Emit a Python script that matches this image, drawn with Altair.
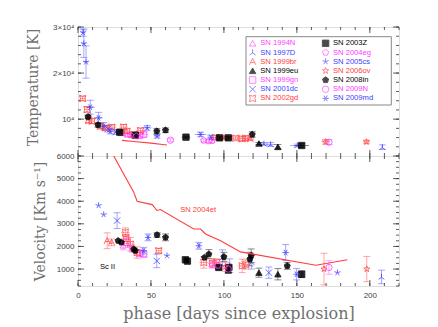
import altair as alt
import pandas as pd

# ---------------- data ----------------
names = ["SN 1994N", "SN 1997D", "SN 1999br", "SN 1999eu", "SN 1999gn", "SN 2001dc", "SN 2002gd",
         "SN 2003Z", "SN 2004eg", "SN 2005cs", "SN 2006ov", "SN 2008in", "SN 2009N", "SN 2009md"]
MAG, BLU, RED, BLK = "#ff3cff", "#3c3cff", "#ff3c3c", "#000000"
colors = [MAG, BLU, RED, BLK, MAG, BLU, RED, BLK, MAG, BLU, RED, BLK, MAG, BLU]
filled = [False, False, False, True, False, False, False, True, False, False, False, True, False, False]

PENT = "M0,-1L0.951,-0.309L0.588,0.809L-0.588,0.809L-0.951,-0.309Z"
STAR = ("M0,-1L0.235,-0.324L0.951,-0.309L0.380,0.124L0.588,0.809L0,0.4L-0.588,0.809"
        "L-0.380,0.124L-0.951,-0.309L-0.235,-0.324Z")
SKEL = "M0,0L0,-1M0,0L0.951,-0.309M0,0L0.588,0.809M0,0L-0.588,0.809M0,0L-0.951,-0.309"
TRI3 = "M0,0.1L0,-1M0,0.1L-0.9,0.75M0,0.1L0.9,0.75"
ALET = "M0,-1L-1,1M0,-1L1,1M-0.6,0.25L0.6,0.25"
XCRS = "M-1,-1L1,1M-1,1L1,-1"
CSQR = "M-1,-1Q0,-0.4,1,-1Q0.4,0,1,1Q0,0.4,-1,1Q-0.4,0,-1,-1Z"
ASTR = "M-1,0L1,0M-0.5,-0.87L0.5,0.87M0.5,-0.87L-0.5,0.87"
shapes = ["triangle-up", TRI3, ALET, "triangle-up", "square", XCRS, CSQR,
          "square", PENT, SKEL, STAR, PENT, "circle", ASTR]

# Temperature panel: phase, T, T error, phase error
t94N_x = [30, 34]; t94N_T = [7000, 6700]; t94N_dT = [500, 400]; t94N_dx = [0, 0]
t97D_x = [127.4, 132, 150.3, 208.6]; t97D_T = [4630, 4500, 4280, 3910]; t97D_dT = [300, 400, 300, 500]; t97D_dx = [3, 3, 5, 0]
t99br_x = [100, 118]; t99br_T = [5900, 5650]; t99br_dT = [300, 300]; t99br_dx = [3, 3]
t99eu_x = [124, 137]; t99eu_T = [4720, 3980]; t99eu_dT = [200, 500]; t99eu_dx = [0, 0]
t99gn_x = [45, 42]; t99gn_T = [6670, 6450]; t99gn_dT = [400, 300]; t99gn_dx = [3, 0]
t01dc_x = [20.5, 26]; t01dc_T = [7900, 7200]; t01dc_dT = [700, 500]; t01dc_dx = [3, 2]
t02gd_x = [3.2, 6.2, 7.3, 9.6, 15.3, 18.7, 23.3, 31.3, 33.6, 38.2, 42.8, 94.2, 108, 112.6, 114.8]
t02gd_T = [14500, 12100, 9720, 9560, 8480, 8110, 8260, 8260, 7390, 6670, 7540, 6020, 5870, 5740, 5870]
t02gd_dT = [400, 600, 500, 500, 600, 500, 500, 600, 500, 400, 500, 400, 300, 400, 400]
t02gd_dx = [2, 2, 2, 2, 3, 3, 3, 3, 3, 2, 3, 3, 3, 3, 3]
t03Z_x = [28.6, 39.3, 74, 97, 103, 153.3]; t03Z_T = [7170, 6520, 6090, 5940, 5940, 4280]
t03Z_dT = [300, 300, 200, 300, 300, 400]; t03Z_dx = [4, 3, 3, 3, 3, 5]
t04eg_x = [36, 40, 86.2, 89.5, 92]; t04eg_T = [6500, 6300, 5370, 5220, 5300]; t04eg_dT = [300, 300, 300, 300, 300]; t04eg_dx = [0, 0, 0, 0, 0]
t05cs_x = [3.5, 4.0, 5.5, 47.4, 54.2]; t05cs_T = [28800, 26400, 22400, 8100, 6300]
t05cs_dT = [800, 3000, 3500, 500, 400]; t05cs_dx = [1.5, 1.5, 1.5, 3, 2]
t06ov_x = [169.7, 197.7]; t06ov_T = [5070, 5070]; t06ov_dT = [500, 400]; t06ov_dx = [3, 2]
t08in_x = [6.9, 13.7, 54, 60, 119.4]; t08in_T = [10500, 8760, 7390, 7600, 6670]; t08in_dT = [400, 500, 600, 500, 600]; t08in_dx = [0, 0, 0, 0, 0]
t09N_x = [63.3, 172]; t09N_T = [5430, 5000]; t09N_dT = [300, 500]; t09N_dx = [0, 0]
t09md_x = [8.4, 14.1, 17.6, 22.2, 84, 91]; t09md_T = [12600, 10280, 8480, 7390, 6670, 6090]
t09md_dT = [1500, 1200, 800, 600, 500, 400]; t09md_dx = [3, 3, 3, 2, 4, 0]

# SN 2004et temperature curve
et_T_x = [30.2, 40, 50, 58, 61]
et_T_y = [5400, 5100, 4800, 4500, 4400]

# Velocity panel: phase, v, v error, phase error
v94N_x = [31]; v94N_v = [2050]; v94N_dv = [200]; v94N_dx = [0]
v97D_x = [99, 104, 119, 208]; v97D_v = [1500, 1150, 1300, 650]; v97D_dv = [350, 300, 300, 300]; v97D_dx = [0, 0, 0, 0]
v99br_x = [20, 23]; v99br_v = [2250, 2180]; v99br_dv = [350, 150]; v99br_dx = [0, 0]
v99eu_x = [103, 124, 137]; v99eu_v = [950, 840, 770]; v99eu_dv = [150, 200, 250]; v99eu_dx = [0, 0, 0]
v99gn_x = [33.6, 42, 45]; v99gn_v = [2180, 1700, 1660]; v99gn_dv = [150, 100, 100]; v99gn_dx = [0, 0, 0]
v01dc_x = [26.8, 54, 130.8]; v01dc_v = [3140, 1360, 840]; v01dc_dv = [350, 300, 250]; v01dc_dx = [0, 0, 0]
v02gd_x = [32.5, 33, 36, 40.5, 55.3, 86.2, 92, 95, 112.5, 115]
v02gd_v = [2620, 2330, 2100, 1730, 1810, 1290, 1250, 1300, 1140, 1200]
v02gd_dv = [200, 200, 300, 250, 100, 250, 200, 150, 300, 200]
v02gd_dx = [3, 3, 3, 3, 2, 3, 3, 3, 3, 3]
v03Z_x = [73.6, 75, 96.5, 103.4, 153.3]; v03Z_v = [1410, 1350, 1070, 1070, 770]; v03Z_dv = [0, 0, 100, 100, 150]; v03Z_dx = [0, 0, 0, 0, 0]
v04eg_x = [37, 92, 96]; v04eg_v = [1900, 1200, 1150]; v04eg_dv = [150, 150, 150]; v04eg_dx = [0, 0, 0]
v05cs_x = [14.1, 17.6, 61, 177.8]; v05cs_v = [3810, 3410, 1590, 840]; v05cs_dv = [0, 0, 0, 0]; v05cs_dx = [0, 0, 0, 0]
v06ov_x = [101, 168.6, 197.9]; v06ov_v = [1100, 1000, 1000]; v06ov_dv = [200, 700, 560]; v06ov_dx = [0, 0, 0]
v08in_x = [27.5, 29.7, 38.2, 39.3, 54.2, 60, 86.7, 89.7, 100, 117.8, 118.7, 143.4]
v08in_v = [2250, 2180, 1880, 1810, 2510, 2400, 1510, 1660, 1540, 1440, 1590, 1140]
v08in_dv = [0, 0, 0, 0, 100, 150, 0, 200, 200, 300, 300, 150]
v08in_dx = [0, 0, 0, 0, 0, 0, 0, 0, 0, 0, 0, 0]
v09N_x = [103, 172]; v09N_v = [1000, 1070]; v09N_dv = [100, 300]; v09N_dx = [0, 0]
v09md_x = [45, 48, 82.8, 142.3, 149.8]; v09md_v = [1810, 2400, 2030, 1730, 770]; v09md_dv = [150, 150, 150, 350, 250]; v09md_dx = [0, 0, 0, 0, 0]

# SN 2004et velocity curve
et_v_x = [24.5, 38.2, 40.5, 50.8, 54.2, 56.5, 79.3, 84, 87.4, 97.7, 111.4, 163, 184.6]
et_v_y = [6000, 4400, 4000, 3850, 3590, 3630, 2770, 2770, 2550, 2250, 1760, 1170, 1410]

# axis ticks
x_major = [0, 50, 100, 150, 200]
x_minor = list(range(0, 221, 10))
T_major = [10000, 20000, 30000]
T_minor = list(range(2000, 30001, 2000))
v_major = [1000, 2000, 3000, 4000, 5000, 6000]
v_minor = list(range(250, 6001, 250))

# ---------------- tables ----------------
temp_series = [
    ("SN 1994N", t94N_x, t94N_T, t94N_dT, t94N_dx), ("SN 1997D", t97D_x, t97D_T, t97D_dT, t97D_dx),
    ("SN 1999br", t99br_x, t99br_T, t99br_dT, t99br_dx), ("SN 1999eu", t99eu_x, t99eu_T, t99eu_dT, t99eu_dx),
    ("SN 1999gn", t99gn_x, t99gn_T, t99gn_dT, t99gn_dx), ("SN 2001dc", t01dc_x, t01dc_T, t01dc_dT, t01dc_dx),
    ("SN 2002gd", t02gd_x, t02gd_T, t02gd_dT, t02gd_dx), ("SN 2003Z", t03Z_x, t03Z_T, t03Z_dT, t03Z_dx),
    ("SN 2004eg", t04eg_x, t04eg_T, t04eg_dT, t04eg_dx), ("SN 2005cs", t05cs_x, t05cs_T, t05cs_dT, t05cs_dx),
    ("SN 2006ov", t06ov_x, t06ov_T, t06ov_dT, t06ov_dx), ("SN 2008in", t08in_x, t08in_T, t08in_dT, t08in_dx),
    ("SN 2009N", t09N_x, t09N_T, t09N_dT, t09N_dx), ("SN 2009md", t09md_x, t09md_T, t09md_dT, t09md_dx),
]
vel_series = [
    ("SN 1994N", v94N_x, v94N_v, v94N_dv, v94N_dx), ("SN 1997D", v97D_x, v97D_v, v97D_dv, v97D_dx),
    ("SN 1999br", v99br_x, v99br_v, v99br_dv, v99br_dx), ("SN 1999eu", v99eu_x, v99eu_v, v99eu_dv, v99eu_dx),
    ("SN 1999gn", v99gn_x, v99gn_v, v99gn_dv, v99gn_dx), ("SN 2001dc", v01dc_x, v01dc_v, v01dc_dv, v01dc_dx),
    ("SN 2002gd", v02gd_x, v02gd_v, v02gd_dv, v02gd_dx), ("SN 2003Z", v03Z_x, v03Z_v, v03Z_dv, v03Z_dx),
    ("SN 2004eg", v04eg_x, v04eg_v, v04eg_dv, v04eg_dx), ("SN 2005cs", v05cs_x, v05cs_v, v05cs_dv, v05cs_dx),
    ("SN 2006ov", v06ov_x, v06ov_v, v06ov_dv, v06ov_dx), ("SN 2008in", v08in_x, v08in_v, v08in_dv, v08in_dx),
    ("SN 2009N", v09N_x, v09N_v, v09N_dv, v09N_dx), ("SN 2009md", v09md_x, v09md_v, v09md_dv, v09md_dx),
]


def table(series):
    recs = []
    for sn, xs_, ys_, dys, dxs in series:
        for x, y, dy, dx in zip(xs_, ys_, dys, dxs):
            recs.append(dict(sn=sn, x=x, y=y, lo=y - dy, hi=y + dy, dy=dy, xlo=x - dx, xhi=x + dx, dx=dx))
    return pd.DataFrame(recs)


tdf = table(temp_series)
vdf = table(vel_series)

W, H1, H2 = 321, 129, 130
XDOM, TDOM, VDOM = [0, 220], [2000, 30000], [250, 6000]
LABEL_FONT = "Liberation Sans"
TITLE_FONT = "DejaVu Serif"
FRAME = "#333333"

xs = alt.Scale(domain=XDOM, nice=False, zero=False)
color_s = alt.Scale(domain=names, range=colors)
fill_s = alt.Scale(domain=names, range=[c if f else "transparent" for c, f in zip(colors, filled)])
shape_s = alt.Scale(domain=names, range=shapes)


def tick_layers(ys_scale, y_major, y_minor, height, xaxis, yaxis):
    L = []
    for vals, ln in ((x_minor, 3), (x_major, 6)):
        d = pd.DataFrame({"t": vals})
        for y0, y1 in ((height, height - ln), (0, ln)):
            L.append(alt.Chart(d).mark_rule(color=FRAME, strokeWidth=0.8).encode(
                x=alt.X("t:Q", scale=xs, axis=xaxis), y=alt.value(y0), y2=alt.value(y1)))
    for vals, ln in ((y_minor, 3), (y_major, 6)):
        d = pd.DataFrame({"t": vals})
        for x0, x1 in ((0, ln), (W, W - ln)):
            L.append(alt.Chart(d).mark_rule(color=FRAME, strokeWidth=0.8).encode(
                y=alt.Y("t:Q", scale=ys_scale, axis=yaxis), x=alt.value(x0), x2=alt.value(x1)))
    return L


def data_layers(df, ys_scale, xaxis, yaxis):
    ey = df[df.dy > 0]
    ex = df[df.dx > 0]
    X = alt.X("x:Q", scale=xs, axis=xaxis)
    col = alt.Color("sn:N", scale=color_s, legend=None)
    L = [
        alt.Chart(ey).mark_rule(strokeWidth=0.9, opacity=0.5).encode(
            x=X, y=alt.Y("lo:Q", scale=ys_scale, axis=yaxis), y2="hi:Q", color=col),
        alt.Chart(ey).mark_tick(orient="horizontal", size=7, thickness=0.9, opacity=0.5).encode(
            x=X, y=alt.Y("lo:Q", scale=ys_scale, axis=yaxis), color=col),
        alt.Chart(ey).mark_tick(orient="horizontal", size=7, thickness=0.9, opacity=0.5).encode(
            x=X, y=alt.Y("hi:Q", scale=ys_scale, axis=yaxis), color=col),
        alt.Chart(ex).mark_rule(strokeWidth=0.9, opacity=0.5).encode(
            x=alt.X("xlo:Q", scale=xs, axis=xaxis), x2="xhi:Q",
            y=alt.Y("y:Q", scale=ys_scale, axis=yaxis), color=col),
        alt.Chart(df).mark_point(filled=False, size=40, strokeWidth=0.9, opacity=0.85).encode(
            x=X, y=alt.Y("y:Q", scale=ys_scale, axis=yaxis),
            stroke=alt.Stroke("sn:N", scale=color_s, legend=None),
            fill=alt.Fill("sn:N", scale=fill_s, legend=None),
            shape=alt.Shape("sn:N", scale=shape_s, legend=None)),
    ]
    return L


# ---------- top panel ----------
ts = alt.Scale(domain=TDOM, nice=False, zero=False)
t_yaxis = alt.Axis(values=T_major, ticks=False, domain=False, grid=False,
                   labelExpr="datum.value == 10000 ? '10⁴' : datum.value == 20000 ? '2×10⁴' : '3×10⁴'",
                   labelFont=LABEL_FONT, labelFontSize=8, labelColor="#444", labelPadding=4,
                   labelFlush=False, labelOverlap=False,
                   title="Temperature [K]", titleFont=TITLE_FONT, titleFontSize=14, titleFontWeight="normal",
                   titleColor="#707070", titleX=-45, titleY=60, titleBaseline="middle", titleAlign="center",
                   titleAngle=270)
t_xaxis = None

top_layers = tick_layers(ts, T_major, T_minor, H1, t_xaxis, t_yaxis)
top_layers += data_layers(tdf, ts, t_xaxis, t_yaxis)
top_layers.append(alt.Chart(pd.DataFrame({"x": et_T_x, "y": et_T_y})).mark_line(
    color=RED, strokeWidth=1.1).encode(x=alt.X("x:Q", scale=xs, axis=t_xaxis),
                                       y=alt.Y("y:Q", scale=ts, axis=t_yaxis)))

# legend (two columns)
leg_rows = [16.3, 25.5, 34.6, 43.8, 53, 62.2, 71.4]
leg_sym_x = [174.6, 247.6]
leg_txt_x = [182.3, 255]
leg = pd.DataFrame({
    "sn": names,
    "lx": [leg_sym_x[i // 7] for i in range(14)],
    "tx": [leg_txt_x[i // 7] for i in range(14)],
    "ly": [leg_rows[i % 7] for i in range(14)],
})
top_layers.append(alt.Chart(pd.DataFrame({"a": [0]})).mark_rect(
    fill="white", stroke="#888888", strokeWidth=1).encode(
    x=alt.value(168), x2=alt.value(313.3), y=alt.value(9.7), y2=alt.value(78)))
top_layers.append(alt.Chart(leg).mark_point(filled=False, size=42, strokeWidth=0.9).encode(
    x=alt.X("lx:Q", scale=None, axis=None), y=alt.Y("ly:Q", scale=None, axis=None),
    stroke=alt.Stroke("sn:N", scale=color_s, legend=None),
    fill=alt.Fill("sn:N", scale=fill_s, legend=None),
    shape=alt.Shape("sn:N", scale=shape_s, legend=None)))
top_layers.append(alt.Chart(leg).mark_text(align="left", baseline="middle", font=LABEL_FONT,
                                           fontSize=7.6).encode(
    x=alt.X("tx:Q", scale=None, axis=None), y=alt.Y("ly:Q", scale=None, axis=None),
    text="sn:N", color=alt.Color("sn:N", scale=color_s, legend=None)))

top = alt.layer(*top_layers).properties(width=W, height=H1)

# ---------- bottom panel ----------
vs = alt.Scale(domain=VDOM, nice=False, zero=False)
v_yaxis = alt.Axis(values=v_major, ticks=False, domain=False, grid=False, format="d",
                   labelFont=LABEL_FONT, labelFontSize=8, labelColor="#444", labelPadding=4,
                   labelFlush=False, labelOverlap=False,
                   title="Velocity [Km s⁻¹]", titleFont=TITLE_FONT, titleFontSize=14, titleFontWeight="normal",
                   titleColor="#707070", titleX=-38, titleY=65, titleBaseline="middle", titleAlign="center",
                   titleAngle=270)
v_xaxis = alt.Axis(values=x_major, ticks=False, domain=False, grid=False, format="d",
                   labelFont=LABEL_FONT, labelFontSize=8, labelColor="#444", labelPadding=5,
                   labelFlush=False, labelOverlap=False,
                   title="phase [days since explosion]", titleFont=TITLE_FONT, titleFontSize=16,
                   titleFontWeight="normal", titleColor="#707070", titleY=27, titleBaseline="middle")

bot_layers = tick_layers(vs, v_major, v_minor, H2, v_xaxis, v_yaxis)
bot_layers += data_layers(vdf, vs, v_xaxis, v_yaxis)
bot_layers.append(alt.Chart(pd.DataFrame({"x": et_v_x, "y": et_v_y})).mark_line(
    color=RED, strokeWidth=1.1, clip=True).encode(x=alt.X("x:Q", scale=xs, axis=v_xaxis),
                                                  y=alt.Y("y:Q", scale=vs, axis=v_yaxis)))
ann = pd.DataFrame({"x": [70, 15], "y": [3630, 1100], "t": ["SN 2004et", "Sc II"], "c": [RED, BLK]})
bot_layers.append(alt.Chart(ann).mark_text(align="left", baseline="middle", font=LABEL_FONT,
                                           fontSize=7.6).encode(
    x=alt.X("x:Q", scale=xs, axis=v_xaxis), y=alt.Y("y:Q", scale=vs, axis=v_yaxis),
    text="t:N", color=alt.Color("c:N", scale=None)))

bottom = alt.layer(*bot_layers).properties(width=W, height=H2)

chart = alt.vconcat(top, bottom, spacing=0, bounds="flush").properties(
    padding={"left": 17, "top": 14, "right": 5, "bottom": 5}
).configure_view(stroke=FRAME, strokeWidth=1).configure(background="white")

chart.save("out.html", embed_options={"renderer": "svg", "actions": False})
